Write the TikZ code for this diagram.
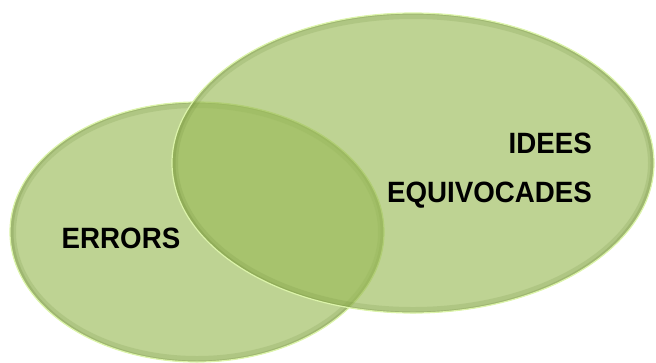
\documentclass[tikz,border=0pt]{standalone}
\usepackage{fontspec}
\setmainfont{Liberation Sans}
\usetikzlibrary{shapes,calc,positioning}
\definecolor{leafgreen}{RGB}{155,187,89}
\definecolor{rimgreen}{RGB}{110,140,60}
\definecolor{glowgreen}{RGB}{220,244,170}

\begin{document}
\begin{tikzpicture}[x=1bp,y=-1bp]
\tikzstyle{bubble} = [ellipse, inner sep=0, fill=leafgreen, fill opacity=0.65,
  draw=glowgreen, line width=1.2bp,
  path picture={\draw[rimgreen, draw opacity=0.18, line width=12bp]
    let \p1=(path picture bounding box.north east), \p2=(path picture bounding box.center)
    in (\p2) ellipse [x radius=\x1-\x2, y radius=\y1-\y2];
    \draw[rimgreen, draw opacity=0.25, line width=5bp]
    let \p1=(path picture bounding box.north east), \p2=(path picture bounding box.center)
    in (\p2) ellipse [x radius=\x1-\x2-1bp, y radius=\y1-\y2+1bp];}]
\tikzstyle{word} = [inner sep=0, yscale=1.06, font=\bfseries\fontsize{27.7bp}{33bp}\selectfont]
\useasboundingbox (0,0) rectangle (656,362);
\node [bubble, minimum width=374bp, minimum height=260bp] (errors) at (197,232) {};
\node [bubble, minimum width=482bp, minimum height=300bp] (idees) at (413,163) {};
\node [word, anchor=base] (errorstext) at (121,248) {ERRORS};
\node [word, anchor=base east] (ideestext) at (592,153) {IDEES};
\node [word, anchor=base east] (equivtext) at (592,202) {EQUIVOCADES};
\end{tikzpicture}
\end{document}
